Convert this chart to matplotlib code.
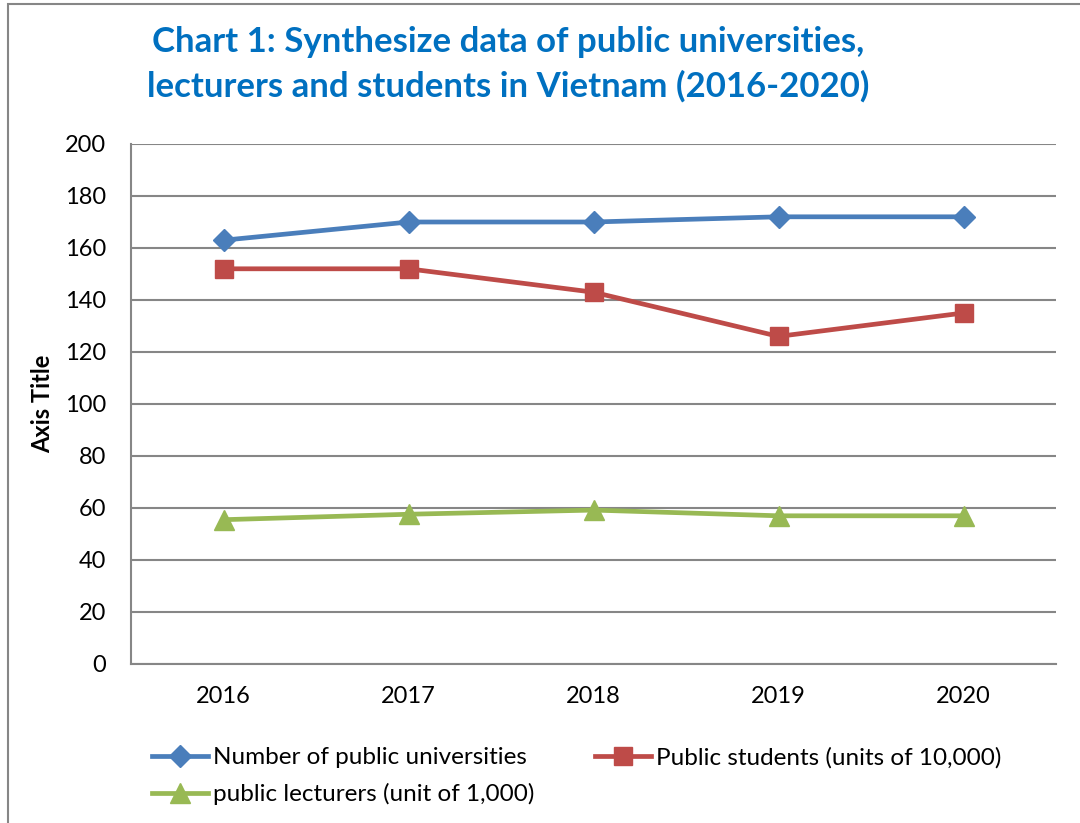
import matplotlib.pyplot as plt
from matplotlib.patches import Rectangle

# chart data
years = ["2016", "2017", "2018", "2019", "2020"]
universities = [163, 170, 170, 172, 172]
students = [152, 152, 143, 126, 135]          # units of 10,000
lecturers = [55.5, 57.6, 59.2, 57, 57]        # unit of 1,000

plt.rcParams['font.family'] = ['Lato', 'DejaVu Sans']

fig = plt.figure(figsize=(10.8, 8.23), dpi=100)
ax = fig.add_axes([131 / 1080, 1 - 664 / 823, 925 / 1080, 520 / 823])

x = range(len(years))
l1, = ax.plot(x, universities, color="#4A7EBB", lw=3.4, marker="D", ms=11,
              label="Number of public universities")
l2, = ax.plot(x, students, color="#BE4B48", lw=3.4, marker="s", ms=13,
              label="Public students (units of 10,000)")
l3, = ax.plot(x, lecturers, color="#98B954", lw=3.4, marker="^", ms=14,
              label="public lecturers (unit of 1,000)")

ax.set_xlim(-0.5, 4.5)
ax.set_ylim(0, 200)
ax.set_yticks(range(0, 201, 20))
ax.set_xticks(list(x))
ax.set_xticklabels(years)
ax.grid(axis="y", color="#868686", lw=1.5)
ax.set_axisbelow(True)
ax.tick_params(axis="y", length=0, pad=18, labelsize=17)
ax.tick_params(axis="x", length=0, pad=16, labelsize=17)
for side in ["top", "right"]:
    ax.spines[side].set_visible(False)
for side in ["left", "bottom"]:
    ax.spines[side].set_color("#868686")
    ax.spines[side].set_linewidth(1.5)

ax.set_ylabel("Axis Title", fontsize=17, fontweight="bold")
ax.yaxis.set_label_coords(-(131 - 54) / 925, 0.5)

fig.text(508 / 1080, 1 - 64 / 823,
         "Chart 1: Synthesize data of public universities,\nlecturers and students in Vietnam (2016-2020)",
         ha="center", va="center", fontsize=25, fontweight="bold", color="#0070C0",
         linespacing=1.45)

# legend entries in row order: blue, red / green
leg = fig.legend([l1, l3, l2], [l1.get_label(), l3.get_label(), l2.get_label()],
                 ncol=2, loc="upper left", bbox_to_anchor=(130 / 1080, 1 - 725 / 823),
                 frameon=False, fontsize=17.5, handlelength=2.3, handletextpad=0.2,
                 columnspacing=2.5, labelspacing=0.6)

# outer chart border (cut off at right and bottom)
fig.patches.append(Rectangle((8 / 1080, -0.1), 1.2, 1.1 - 4 / 823, transform=fig.transFigure,
                             fill=False, edgecolor="#868686", lw=1.5))

fig.savefig("out.png", dpi=100)
